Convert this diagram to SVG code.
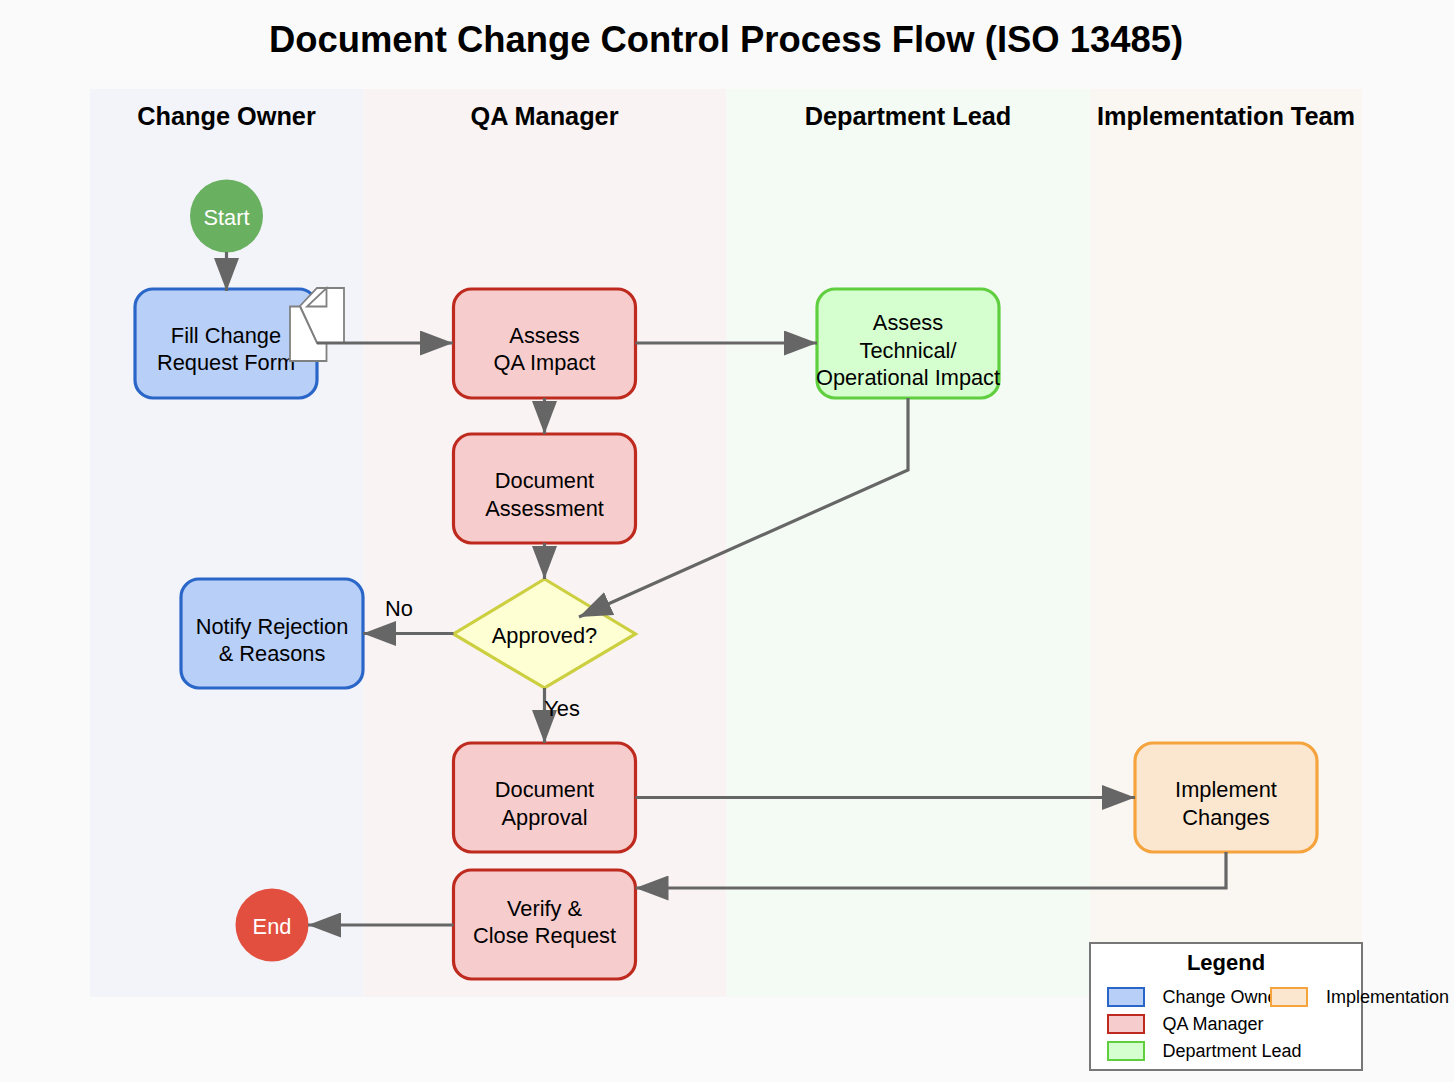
<svg xmlns="http://www.w3.org/2000/svg" width="1454" height="1082" viewBox="0 0 1454 1082">
<style>
text{font-family:"Liberation Sans",Arial,sans-serif;text-anchor:middle;fill:#000}
.t{font-size:21.800px}
.h{font-size:25.300px;font-weight:700}
.title{font-size:36.400px;font-weight:700}
.w{fill:#fff;font-size:21.800px}
.n{stroke-width:3.200px}
.co{fill:#b8cff8;stroke:#2a66c8}
.qa{fill:#f7cccd;stroke:#bf2a1f}
.dl{fill:#d6ffcf;stroke:#5fcf3f}
.im{fill:#fbe6d0;stroke:#f5a33c}
.c{fill:none;stroke:#666;stroke-width:3.200px}
.d{fill:#fff;stroke:#808080;stroke-width:1.800px}
.lg{stroke-width:2px}
.lt{font-size:18px;text-anchor:start}
</style>
<defs>
<marker id="a" viewBox="0 0 33 25" refX="33" refY="12.500" markerUnits="userSpaceOnUse" markerWidth="33" markerHeight="25" orient="auto"><path d="M0,0L33,12.500L0,25Z" fill="#666"/></marker>
</defs>
<rect width="1454" height="1082" fill="#fafafa"/>
<text class="title" x="726" y="52">Document Change Control Process Flow (ISO 13485)</text>
<g id="lanes">
<rect x="90" y="89" width="273.500" height="908" fill="#f3f4fa"/>
<rect x="363.500" y="89" width="363" height="908" fill="#f9f3f4"/>
<rect x="726.500" y="89" width="363.500" height="908" fill="#f4fbf4"/>
<rect x="1090" y="89" width="272" height="908" fill="#faf6f1"/>
<text class="h" x="226.500" y="125">Change Owner</text>
<text class="h" x="544.500" y="125">QA Manager</text>
<text class="h" x="908" y="125">Department Lead</text>
<text class="h" x="1226" y="125">Implementation Team</text>
</g>
<g id="n-start"><circle cx="226.500" cy="216" r="36.500" fill="#69b060"/><text class="w" x="226.500" y="225">Start</text></g>
<g id="n-fill"><rect class="n co" x="135" y="289" width="182" height="109" rx="18"/><text class="t" x="226" y="343">Fill Change</text><text class="t" x="226" y="370">Request Form</text></g>
<g id="n-assess"><rect class="n qa" x="453.500" y="289" width="182" height="109" rx="18"/><text class="t" x="544.500" y="343">Assess</text><text class="t" x="544.500" y="370">QA Impact</text></g>
<g id="n-tech"><rect class="n dl" x="817" y="289" width="182" height="109" rx="18"/><text class="t" x="908" y="330">Assess</text><text class="t" x="908" y="358">Technical/</text><text class="t" x="908" y="385">Operational Impact</text></g>
<g id="n-docassess"><rect class="n qa" x="453.500" y="434" width="182" height="109" rx="18"/><text class="t" x="544.500" y="488">Document</text><text class="t" x="544.500" y="516">Assessment</text></g>
<g id="n-approved"><path class="n" d="M544.500,579L635.500,634L544.500,688L453.500,634Z" fill="#ffffd4" stroke="#cccf40"/><text class="t" x="544.500" y="643">Approved?</text></g>
<g id="n-notify"><rect class="n co" x="181" y="579" width="182" height="109" rx="18"/><text class="t" x="272" y="634">Notify Rejection</text><text class="t" x="272" y="661">&amp; Reasons</text></g>
<g id="n-docapprove"><rect class="n qa" x="453.500" y="743" width="182" height="109" rx="18"/><text class="t" x="544.500" y="797">Document</text><text class="t" x="544.500" y="825">Approval</text></g>
<g id="n-impl"><rect class="n im" x="1135" y="743" width="182" height="109" rx="18"/><text class="t" x="1226" y="797">Implement</text><text class="t" x="1226" y="825">Changes</text></g>
<g id="n-verify"><rect class="n qa" x="453.500" y="870" width="182" height="109" rx="18"/><text class="t" x="544.500" y="916">Verify &amp;</text><text class="t" x="544.500" y="943">Close Request</text></g>
<g id="n-end"><circle cx="272" cy="925" r="36.500" fill="#e24f3f"/><text class="w" x="272" y="934">End</text></g>
<g id="doc-icon">
<path class="d" d="M300,306L317,288H344V343H317Z"/>
<path class="d" d="M290,306.500H300L317,343H326.500V361H290Z"/>
<path class="d" d="M326.500,288V306.500H307Z" fill="#f2f2f2"/>
</g>
<g id="connectors">
<path class="c" marker-end="url(#a)" d="M226.500,252V291"/>
<path class="c" marker-end="url(#a)" d="M317,343H453"/>
<path class="c" marker-end="url(#a)" d="M635.500,343H817"/>
<path class="c" marker-end="url(#a)" d="M544.500,398V434"/>
<path class="c" marker-end="url(#a)" d="M908,398V470L579,617"/>
<path class="c" marker-end="url(#a)" d="M544.500,543V579"/>
<path class="c" marker-end="url(#a)" d="M453.500,633.500H363"/>
<path class="c" marker-end="url(#a)" d="M544.500,688V743"/>
<path class="c" marker-end="url(#a)" d="M635.500,797.500H1135"/>
<path class="c" marker-end="url(#a)" d="M1226,852V888H635.500"/>
<path class="c" marker-end="url(#a)" d="M453.500,925H308"/>
</g>
<g id="edge-labels">
<text class="t" x="399" y="616">No</text>
<text class="t" x="562" y="716">Yes</text>
</g>
<g id="legend">
<rect x="1090" y="943" width="272" height="127" fill="#fff" stroke="#777" stroke-width="2"/>
<text x="1226" y="970" style="font-size:22px;font-weight:700">Legend</text>
<rect class="co lg" x="1108" y="988" width="36" height="18"/><text class="lt" x="1162.500" y="1003">Change Owner</text>
<rect class="im lg" x="1271" y="988" width="36" height="18"/><text class="lt" x="1326" y="1003">Implementation</text>
<rect class="qa lg" x="1108" y="1015" width="36" height="18"/><text class="lt" x="1162.500" y="1030">QA Manager</text>
<rect class="dl lg" x="1108" y="1042" width="36" height="18"/><text class="lt" x="1162.500" y="1057">Department Lead</text>
</g>
</svg>
